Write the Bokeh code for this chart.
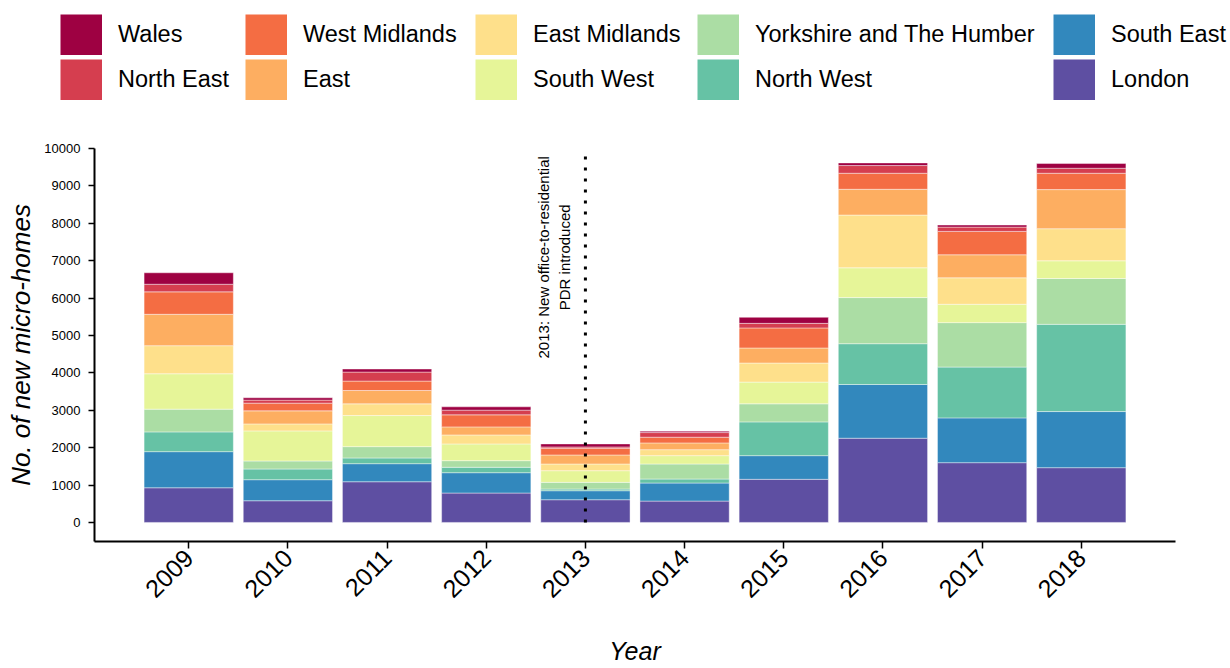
import math
from bokeh.plotting import figure
from bokeh.models import ColumnDataSource, Legend, LegendItem, FixedTicker, Range1d
from bokeh.core.properties import value
from bokeh.embed import file_html
from bokeh.resources import INLINE

years = [2009, 2010, 2011, 2012, 2013, 2014, 2015, 2016, 2017, 2018]
year_labels = [str(y) for y in years]

# stack order bottom -> top
regions = ["London", "South East", "North West", "Yorkshire and The Humber",
           "South West", "East Midlands", "East", "West Midlands",
           "North East", "Wales"]

london     = [927, 580, 1088, 786, 607, 571, 1153, 2252, 1598, 1464]
south_east = [966, 563, 483, 544, 241, 483, 633, 1437, 1198, 1501]
north_west = [528, 286, 153, 145, 45, 107, 903, 1091, 1359, 2333]
yorkshire  = [608, 214, 303, 177, 179, 402, 483, 1233, 1188, 1225]
south_west = [947, 805, 831, 447, 311, 223, 581, 797, 491, 474]
east_mid   = [751, 187, 314, 241, 180, 160, 510, 1410, 708, 858]
east       = [839, 349, 356, 215, 241, 180, 402, 689, 616, 1046]
west_mid   = [600, 206, 252, 322, 180, 153, 536, 429, 625, 437]
north_east = [204, 81, 241, 126, 35, 124, 123, 206, 115, 134]
wales      = [306, 61, 81, 88, 80, 37, 161, 70, 54, 126]

series = [london, south_east, north_west, yorkshire, south_west,
          east_mid, east, west_mid, north_east, wales]

colors = ["#5E4FA2", "#3288BD", "#66C2A5", "#ABDDA4", "#E6F598",
          "#FEE08B", "#FDAE61", "#F46D43", "#D53E4F", "#9E0142"]

y_ticks = list(range(0, 10001, 1000))

annotation_text = "2013: New office-to-residential\nPDR introduced"
pdr_year = 2013

data = {"year": years}
for name, vals in zip(regions, series):
    data[name] = vals
source = ColumnDataSource(data)

FONT = "Liberation Sans"
W = 1230

# ---------------- legend strip (separate root) ----------------
leg = figure(width=W, height=110, output_backend="svg", toolbar_location=None,
             x_range=Range1d(0, 1), y_range=Range1d(0, 1),
             x_axis_type=None, y_axis_type=None, min_border=0)
leg.outline_line_color = None

legend_order = list(reversed(regions))          # Wales ... London
legend_colors = list(reversed(colors))
# key proxies: their points lie outside the visible range, only the legend shows them
proxy_x = [5, 6]
proxy_y = [5, 6]
key_renderers = {name: leg.line(x=proxy_x, y=proxy_y, line_color=c, line_width=41,
                                line_cap="butt")
                 for name, c in zip(legend_order, legend_colors)}

column_x = [60, 245, 475, 697, 1053]
for ci, x0 in enumerate(column_x):
    names = legend_order[2 * ci: 2 * ci + 2]
    lg = Legend(items=[LegendItem(label=n, renderers=[key_renderers[n]]) for n in names],
                orientation="vertical", location=(x0, 10),
                glyph_width=42, glyph_height=41, spacing=4,
                label_standoff=16, label_text_font=FONT,
                label_text_font_size="23.5px", label_text_color="black",
                padding=0, margin=0, border_line_color=None,
                background_fill_alpha=0)
    leg.add_layout(lg, "center")

# ---------------- main chart ----------------
p = figure(width=W, height=558, output_backend="svg", toolbar_location=None,
           x_range=Range1d(2008.05, 2018.95), y_range=Range1d(-510, 10000),
           min_border_left=94, min_border_right=55, min_border_top=38,
           min_border_bottom=127)

renderers = p.vbar_stack(regions, x="year", width=0.9, source=source,
                         color=colors, line_color="white", line_width=0.6,
                         line_alpha=0.7)

# dotted vertical marker
p.segment(x0=[pdr_year], y0=[0], x1=[pdr_year], y1=[10000],
          line_color="black", line_width=3, line_dash="3 8")

p.text(x=[pdr_year - 0.32], y=[7090], text=[annotation_text], angle=math.pi / 2,
       text_align="center", text_baseline="middle", text_font=value(FONT),
       text_font_size="15px", text_color="black", text_line_height=1.25)

p.xgrid.visible = False
p.ygrid.visible = False
p.outline_line_color = None

p.xaxis.ticker = FixedTicker(ticks=years)
p.xaxis.major_label_overrides = {y: l for y, l in zip(years, year_labels)}
p.xaxis.major_label_orientation = math.pi / 4
p.xaxis.major_label_text_font = FONT
p.xaxis.major_label_text_font_size = "25px"
p.xaxis.major_label_text_color = "black"
p.xaxis.major_label_standoff = 5
p.xaxis.axis_line_width = 2
p.xaxis.major_tick_out = 7
p.xaxis.major_tick_in = 0
p.xaxis.major_tick_line_width = 1.5
p.xaxis.minor_tick_line_color = None
p.xaxis.axis_label = "Year"
p.xaxis.axis_label_text_font = FONT
p.xaxis.axis_label_text_font_style = "italic"
p.xaxis.axis_label_text_font_size = "25px"
p.xaxis.axis_label_text_color = "black"
p.xaxis.axis_label_standoff = 28

p.yaxis.ticker = FixedTicker(ticks=y_ticks)
p.yaxis.major_label_text_font = FONT
p.yaxis.major_label_text_font_size = "13px"
p.yaxis.major_label_text_color = "black"
p.yaxis.major_label_standoff = 8
p.yaxis.axis_line_width = 2
p.yaxis.major_tick_out = 6
p.yaxis.major_tick_in = 0
p.yaxis.major_tick_line_width = 1.5
p.yaxis.minor_tick_line_color = None
p.yaxis.axis_label = "No. of new micro-homes"
p.yaxis.axis_label_text_font = FONT
p.yaxis.axis_label_text_font_style = "italic"
p.yaxis.axis_label_text_font_size = "26px"
p.yaxis.axis_label_text_color = "black"
p.yaxis.axis_label_standoff = 5

open("out.html", "w").write(file_html([leg, p], INLINE))
